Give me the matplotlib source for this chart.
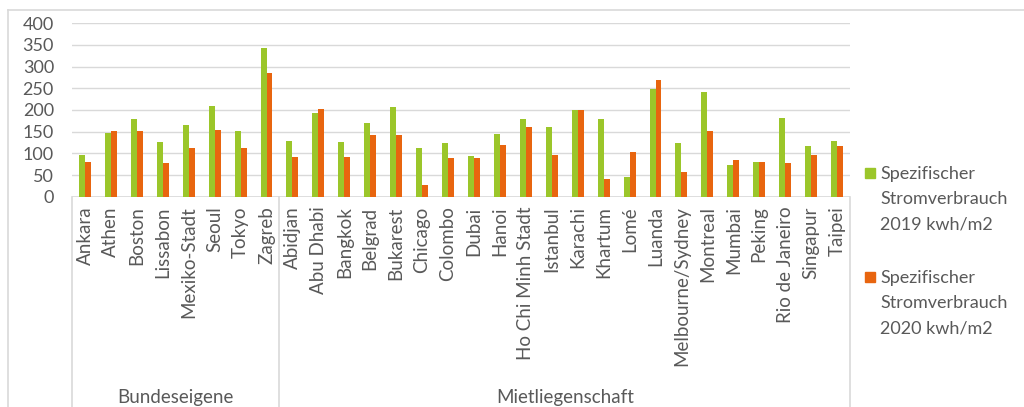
import numpy as np
import matplotlib.pyplot as plt
from matplotlib.lines import Line2D
from matplotlib.patches import Rectangle

plt.rcParams['font.family'] = ['Lato', 'DejaVu Sans']

# Daten
bundeseigene = ["Ankara", "Athen", "Boston", "Lissabon", "Mexiko-Stadt", "Seoul", "Tokyo", "Zagreb"]
mietliegenschaft = ["Abidjan", "Abu Dhabi", "Bangkok", "Belgrad", "Bukarest", "Chicago", "Colombo",
                    "Dubai", "Hanoi", "Ho Chi Minh Stadt", "Istanbul", "Karachi", "Khartum", "Lomé",
                    "Luanda", "Melbourne/Sydney", "Montreal", "Mumbai", "Peking", "Rio de Janeiro",
                    "Singapur", "Taipei"]
group_names = ["Bundeseigene", "Mietliegenschaft"]

verbrauch_2019 = [96, 148, 180, 127, 165, 209, 152, 343,
                  128, 192, 127, 169, 208, 112, 125, 95, 145, 180, 160, 200, 180, 46,
                  248, 123, 242, 74, 81, 182, 116, 128]
verbrauch_2020 = [79, 152, 152, 77, 112, 155, 112, 285,
                  92, 203, 92, 142, 142, 26, 89, 89, 120, 160, 97, 200, 41, 102,
                  269, 58, 152, 84, 81, 77, 96, 117]

label_2019 = "Spezifischer\nStromverbrauch\n2019 kwh/m2"
label_2020 = "Spezifischer\nStromverbrauch\n2020 kwh/m2"

green = "#9bc62a"
orange = "#e8650f"
grid_col = "#d9d9d9"
text_col = "#595959"

cities = bundeseigene + mietliegenschaft
x = np.arange(len(cities))

W, H = 1024, 407
fig = plt.figure(figsize=(W / 100, H / 100), dpi=100)

# Rahmen um das Diagramm
fig.add_artist(Line2D([8 / W, 8 / W], [0, 1 - 10 / H], color=grid_col, lw=1.2))
fig.add_artist(Line2D([8 / W, 1], [1 - 10 / H, 1 - 10 / H], color=grid_col, lw=1.2))

left, right, top, bottom = 72, 850, 23.3, 196.7
ax = fig.add_axes([left / W, 1 - bottom / H, (right - left) / W, (bottom - top) / H])

bw = 0.23
ax.bar(x - bw / 2, verbrauch_2019, bw, color=green, zorder=3)
ax.bar(x + bw / 2, verbrauch_2020, bw, color=orange, zorder=3)

ax.set_xlim(-0.5, len(cities) - 0.5)
ax.set_ylim(0, 400)
ax.set_yticks(np.arange(0, 401, 50))
ax.yaxis.grid(True, color=grid_col, lw=1)
ax.set_axisbelow(True)
for s in ax.spines.values():
    s.set_visible(False)
ax.axhline(0, color=grid_col, lw=1.2, zorder=2)

ax.tick_params(axis='y', length=0, pad=13, labelsize=13, labelcolor=text_col)
ax.set_xticks(x)
ax.set_xticklabels(cities, rotation=90, fontsize=13.5, color=text_col)
ax.tick_params(axis='x', length=0, pad=7)

# Gruppenachse
n1 = len(bundeseigene)
trans = ax.get_xaxis_transform()
for xpos in [-0.5, n1 - 0.5, len(cities) - 0.5]:
    ax.add_line(Line2D([xpos, xpos], [0, -1.3], transform=trans, color=grid_col,
                       lw=1.2, clip_on=False))
ax.text((n1 - 1) / 2, -1.16, group_names[0], transform=trans, ha='center', va='center',
        fontsize=13.5, color=text_col)
ax.text((n1 + len(cities) - 1) / 2, -1.16, group_names[1], transform=trans, ha='center',
        va='center', fontsize=13.5, color=text_col)

# Legende
for label, col, y0 in [(label_2019, green, 168), (label_2020, orange, 272)]:
    fig.add_artist(Rectangle((865 / W, 1 - (y0 + 9.5) / H), 10 / W, 9.5 / H,
                             color=col, transform=fig.transFigure))
    for i, line in enumerate(label.split("\n")):
        fig.text(880 / W, 1 - (y0 + 11 + 25 * i) / H, line, fontsize=13,
                 color=text_col, va='baseline', ha='left')

fig.savefig("out.png", dpi=100)
